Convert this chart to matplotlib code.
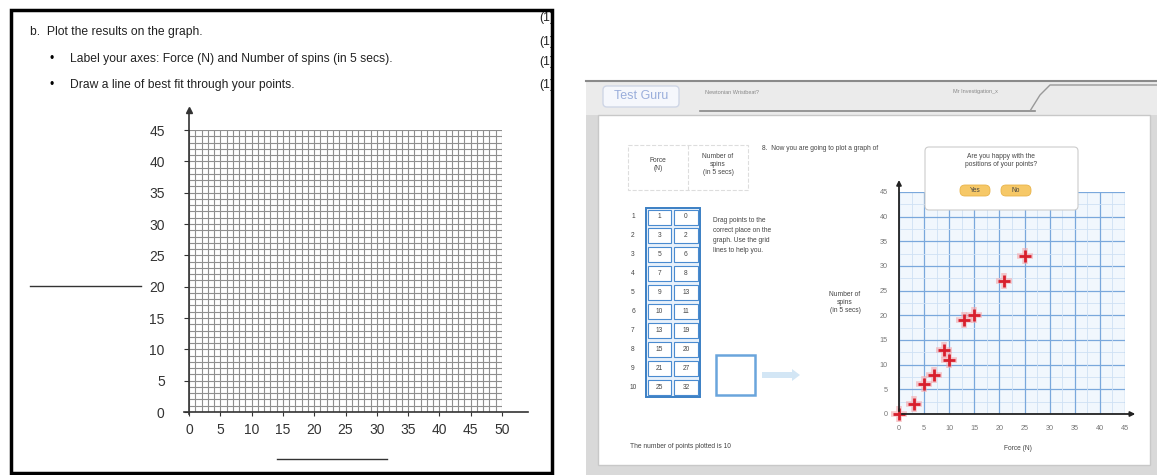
import matplotlib.pyplot as plt
from matplotlib.patches import Rectangle, FancyBboxPatch, FancyArrow

plt.rcParams['font.family'] = ['Liberation Sans', 'DejaVu Sans']

# data
blank_x_ticks = list(range(0, 51, 5))
blank_y_ticks = list(range(0, 46, 5))
force = [0, 3, 5, 7, 9, 10, 13, 15, 21, 25]
spins = [0, 2, 6, 8, 13, 11, 19, 20, 27, 32]
table_force = [1, 3, 5, 7, 9, 10, 13, 15, 21, 25]
shot_ticks = list(range(0, 46, 5))
questions = ['b.  Plot the results on the graph.',
             'Label your axes: Force (N) and Number of spins (in 5 secs).',
             'Draw a line of best fit through your points.']

W, H = 1157, 475
fig = plt.figure(figsize=(W / 100, H / 100), dpi=100)


def px_axes(x0, y0, x1, y1, **kw):
    return fig.add_axes([x0 / W, 1 - y1 / H, (x1 - x0) / W, (y1 - y0) / H], **kw)


# background layer in pixel coords
bg = fig.add_axes([0, 0, 1, 1], zorder=0)
bg.set_xlim(0, W)
bg.set_ylim(H, 0)
bg.axis('off')

# ---- left worksheet ----
bg.add_patch(Rectangle((11, 10), 541, 463, fill=False, lw=2.5, ec='black', zorder=5))
bg.add_patch(Rectangle((553, 0), 30, 100, fc='white', ec='none', zorder=4))
bg.text(30, 32, questions[0], fontsize=8.7, va='center', color='#222')
bg.text(50, 59, '•', fontsize=8.7, va='center')
bg.text(70, 59, questions[1], fontsize=8.7, va='center', color='#222')
bg.text(50, 85, '•', fontsize=8.7, va='center')
bg.text(70, 85, questions[2], fontsize=8.7, va='center', color='#222')
for y in [18, 42, 62, 85]:
    bg.text(539, y, '(1)', fontsize=8.7, ha='left', va='center', color='#222', zorder=3)
bg.plot([30, 141], [286, 286], color='#333', lw=1)
bg.plot([277, 387], [459, 459], color='#333', lw=1)

ax1 = px_axes(189, 130, 502, 412, zorder=1)
ax1.set_xlim(0, 50)
ax1.set_ylim(0, 45)
for s in ax1.spines.values():
    s.set_visible(False)
for v in range(0, 51):
    ax1.axvline(v, color='#8f8f8f', lw=0.8, zorder=0)
for v in range(0, 46):
    ax1.axhline(v, color='#8f8f8f', lw=0.8, zorder=0)
ax1.plot([-0.8, 54.2], [0, 0], color='#333', lw=1.2, clip_on=False)
ax1.plot([0, 0], [-0.3, 47.5], color='#333', lw=1.2, clip_on=False)
ax1.plot([0], [48.2], marker='^', ms=4, color='#333', clip_on=False)
ax1.set_xticks(blank_x_ticks)
ax1.set_yticks(blank_y_ticks)
ax1.tick_params(axis='x', length=3, pad=5, labelsize=10, colors='#333')
ax1.tick_params(axis='y', length=3.5, pad=14, labelsize=10, colors='#333')

# ---- right screenshot ----
bg.add_patch(Rectangle((586, 81), 571, 394, fc='#d9d9d9', ec='none'))
bg.add_patch(Rectangle((586, 81), 571, 34, fc='#ebebeb', ec='none'))
bg.plot([586, 1157], [81, 81], color='#8a8a8a', lw=1.5)
bg.add_patch(Rectangle((598, 115), 552, 350, fc='white', ec='#c8c8c8'))
bg.add_patch(FancyBboxPatch((603, 86), 76, 21, boxstyle='round,pad=0,rounding_size=4',
                            fc='#f5f7fc', ec='#cfd6e6'))
bg.text(641, 96, 'Test Guru', fontsize=9, color='#9aaedb', ha='center', va='center')
bg.text(705, 92, 'Newtonian Wristbeat?', fontsize=4, color='#888', va='center')
bg.plot([700, 1035], [111, 111], color='#888', lw=1.2)
bg.text(975, 92, 'Mr Investigation_x', fontsize=4, color='#888', va='center', ha='center')
bg.plot([1030, 1040, 1050, 1157], [111, 95, 85, 85], color='#999', lw=1)

# header and table
bg.add_patch(Rectangle((628, 145), 120, 45, fc='white', ec='#dddddd', ls='--', lw=0.8))
bg.plot([688, 688], [145, 190], color='#dddddd', lw=0.8, ls='--')
bg.text(658, 165, 'Force\n(N)', fontsize=4.8, ha='center', va='center', color='#444')
bg.text(718, 165, 'Number of\nspins\n(in 5 secs)', fontsize=4.8, ha='center', va='center',
        color='#444')
bg.text(762, 148, '8.  Now you are going to plot a graph of', fontsize=4.8, va='center',
        color='#444')
row_h = 18.9
bg.add_patch(Rectangle((646, 208), 54, row_h * 10, fc='#e8f1fb', ec='#3b7fc4', lw=1.4))
for i in range(10):
    yc = 217 + i * row_h
    bg.add_patch(Rectangle((648, yc - 7.5), 23, 15, fc='white', ec='#4a8bd0', lw=0.8))
    bg.add_patch(Rectangle((674, yc - 7.5), 24, 15, fc='white', ec='#4a8bd0', lw=0.8))
    bg.text(633, yc, str(i + 1), fontsize=4.8, ha='center', va='center', color='#444')
    bg.text(659.5, yc, str(table_force[i]), fontsize=4.8, ha='center', va='center', color='#444')
    bg.text(686, yc, str(spins[i]), fontsize=4.8, ha='center', va='center', color='#444')
for j, line in enumerate(['Drag points to the', 'correct place on the',
                          'graph. Use the grid', 'lines to help you.']):
    bg.text(713, 220 + j * 10, line, fontsize=4.8, va='center', color='#444')
bg.add_patch(Rectangle((716, 355), 39, 40, fill=False, ec='#6aa5dc', lw=1.8))
bg.add_patch(FancyArrow(762, 375, 30, 0, width=6, head_width=12, head_length=8,
                        fc='#d3e6f5', ec='none'))
bg.text(630, 447, 'The number of points plotted is 10', fontsize=4.8, va='center', color='#444')
bg.text(845, 303, 'Number of\nspins\n(in 5 secs)', fontsize=4.8, ha='center', va='center',
        color='#444')
bg.text(1018, 448, 'Force (N)', fontsize=4.8, ha='center', va='center', color='#444')

ax2 = px_axes(899, 192, 1125, 414, zorder=1)
ax2.set_facecolor('#f1f7fd')
ax2.set_xlim(0, 45)
ax2.set_ylim(0, 45)
for s in ax2.spines.values():
    s.set_visible(False)
for k in range(0, 19):
    v = k * 2.5
    c, lw = ('#7aa8dc', 0.9) if k % 2 == 0 else ('#cfe1f4', 0.6)
    ax2.axvline(v, color=c, lw=lw, zorder=0)
    ax2.axhline(v, color=c, lw=lw, zorder=0)
ax2.annotate('', xy=(47.6, 0), xytext=(0, 0), annotation_clip=False,
             arrowprops=dict(arrowstyle='-|>', color='#222', lw=1.3, mutation_scale=7))
ax2.annotate('', xy=(0, 48), xytext=(0, 0), annotation_clip=False,
             arrowprops=dict(arrowstyle='-|>', color='#222', lw=1.3, mutation_scale=7))
ax2.set_xticks(shot_ticks)
ax2.set_yticks(shot_ticks)
ax2.tick_params(length=0, pad=8, labelsize=5.2, colors='#777')
ax2.plot(force, spins, '+', ms=12, mew=4, color='#f4a6ab', alpha=0.6, clip_on=False)
ax2.plot(force, spins, '+', ms=9, mew=2, color='#d81f2c', clip_on=False)

# popup on top
fg = fig.add_axes([0, 0, 1, 1], zorder=3)
fg.set_xlim(0, W)
fg.set_ylim(H, 0)
fg.axis('off')
fg.patch.set_alpha(0)
fg.add_patch(FancyBboxPatch((925, 147), 153, 63, boxstyle='round,pad=0,rounding_size=4',
                            fc='white', ec='#cccccc', lw=0.8))
fg.text(1001, 161, 'Are you happy with the\npositions of your points?', fontsize=4.8,
        ha='center', va='center', color='#444')
for xc, lab in [(975, 'Yes'), (1016, 'No')]:
    fg.add_patch(FancyBboxPatch((xc - 15, 185), 30, 11, boxstyle='round,pad=0,rounding_size=5',
                                fc='#f6c867', ec='#e8b34a', lw=0.6))
    fg.text(xc, 190.5, lab, fontsize=4.8, ha='center', va='center', color='#444')

fig.savefig('out.png', dpi=100)
